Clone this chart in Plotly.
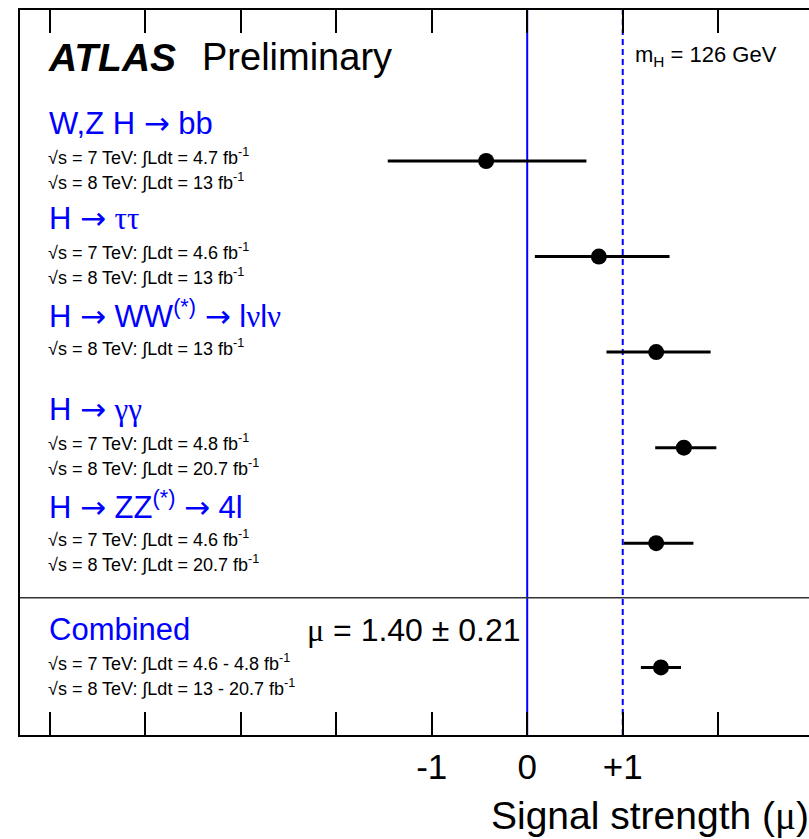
import plotly.graph_objects as go

# ---------------- data ----------------
channels = ["W,Z H → bb", "H → ττ", "H → WW<sup>(*)</sup> → lνlν",
            "H → γγ", "H → ZZ<sup>(*)</sup> → 4l", "Combined"]
mu = [-0.43, 0.75, 1.35, 1.64, 1.35, 1.40]
err_lo = [1.03, 0.67, 0.52, 0.30, 0.34, 0.21]
err_hi = [1.05, 0.74, 0.57, 0.34, 0.39, 0.21]
lumi7 = ["4.7", "4.6", None, "4.8", "4.6", "4.6 - 4.8"]
lumi8 = ["13", "13", "13", "20.7", "20.7", "13 - 20.7"]
tick_vals = [-5, -4, -3, -2, -1, 0, 1, 2]
tick_text = ["", "", "", "", "-1", "0", "+1", ""]
mu_comb, mu_comb_err = 1.40, 0.21
mH = 126

# ---------------- layout helpers ----------------
W, H = 809, 839
L, R, T, B = 20, 0, 10, 104
XR = [-5.31, 2.95]
YR = [-1.007, 6.58]
n_sep = len(channels) - 1
row_y = [n_sep - i for i in range(n_sep)] + [-0.3]
sep_y = 0.43

FONT = "Liberation Sans, Arial, Helvetica, sans-serif"
SERIF = "Liberation Serif"
BLUE = "#0000ff"


def px_x(px):
    return (px - L) / (W - L - R)


def px_y(py):
    return (H - B - py) / (H - T - B)


def styl(t):
    """Greek letters in a serif face, arrows in a wider face (like ROOT's Symbol font)."""
    out = ""
    for c in t:
        if c in "τγνμ":
            out += '<span style="font-family:%s">%s</span>' % (SERIF, c)
        elif c == "→":
            out += '<span style="font-family:DejaVu Sans">→</span>'
        else:
            out += c
    return out


fig = go.Figure()

fig.add_trace(go.Scatter(
    x=mu, y=row_y, mode="markers",
    marker=dict(color="black", size=16),
    error_x=dict(type="data", symmetric=False, array=err_hi, arrayminus=err_lo,
                 color="black", thickness=3, width=0),
    showlegend=False, hoverinfo="skip",
))

ann = []
for i, ch in enumerate(channels):
    y0 = row_y[i]
    ann.append(dict(x=px_x(47), xref="paper", y=y0 + 0.40, yref="y", text=styl(ch),
                    xanchor="left", yanchor="middle", showarrow=False,
                    font=dict(family=FONT, size=31, color=BLUE)))
    lines = []
    if lumi7[i] is not None:
        lines.append("√s = 7 TeV: ∫Ldt = %s fb<sup>-1</sup>" % lumi7[i])
    lines.append("√s = 8 TeV: ∫Ldt = %s fb<sup>-1</sup>" % lumi8[i])
    offs = [0.05, -0.21]
    for j, t in enumerate(lines):
        ann.append(dict(x=px_x(46), xref="paper", y=y0 + offs[j], yref="y", text=t,
                        xanchor="left", yanchor="middle", showarrow=False,
                        font=dict(family=FONT, size=18, color="black")))

ann.append(dict(x=px_x(305), xref="paper", y=row_y[-1] + 0.39, yref="y",
                text=styl("μ = %.2f ± %.2f" % (mu_comb, mu_comb_err)),
                xanchor="left", yanchor="middle", showarrow=False,
                font=dict(family=FONT, size=32, color="black")))

ann.append(dict(x=px_x(46), xref="paper", y=px_y(57), yref="paper",
                text="<b><i>ATLAS</i></b>", xanchor="left", yanchor="middle",
                showarrow=False, font=dict(family=FONT, size=39, color="black")))
ann.append(dict(x=px_x(200), xref="paper", y=px_y(57), yref="paper",
                text="Preliminary", xanchor="left", yanchor="middle",
                showarrow=False, font=dict(family=FONT, size=38, color="black")))
ann.append(dict(x=px_x(633), xref="paper", y=px_y(56), yref="paper",
                text="m<sub>H</sub> = %d GeV" % mH, xanchor="left", yanchor="middle",
                showarrow=False, font=dict(family=FONT, size=22, color="black")))
ann.append(dict(x=px_x(811), xref="paper", y=px_y(816), yref="paper",
                text=styl("Signal strength (μ)"), xanchor="right", yanchor="middle",
                showarrow=False, font=dict(family=FONT, size=39, color="black")))

shapes = [
    dict(type="line", xref="x", yref="paper", x0=0, x1=0, y0=0, y1=1,
         line=dict(color=BLUE, width=2), layer="below"),
    dict(type="line", xref="x", yref="paper", x0=1, x1=1, y0=0, y1=1,
         line=dict(color=BLUE, width=2, dash="6px,4px"), layer="below"),
    dict(type="line", xref="paper", yref="y", x0=0, x1=1, y0=sep_y, y1=sep_y,
         line=dict(color="#333333", width=1.5), layer="below"),
]

fig.update_layout(
    width=W, height=H,
    margin=dict(l=L, r=R, t=T, b=B, pad=0),
    paper_bgcolor="white", plot_bgcolor="white",
    annotations=ann, shapes=shapes,
    font=dict(family=FONT, color="black"),
    xaxis=dict(range=XR, tickvals=tick_vals, ticktext=tick_text,
               ticks="inside", ticklen=23, tickwidth=1.5, tickcolor="black",
               showline=True, linecolor="black", linewidth=2, mirror="ticks",
               showgrid=False, zeroline=False,
               tickfont=dict(family=FONT, size=35, color="black"),
               ticklabelstandoff=0),
    yaxis=dict(range=YR, showline=True, linecolor="black", linewidth=2,
               mirror=False, showticklabels=False, ticks="", showgrid=False,
               zeroline=False),
)

fig.write_html("out.html", config={"displayModeBar": False})
